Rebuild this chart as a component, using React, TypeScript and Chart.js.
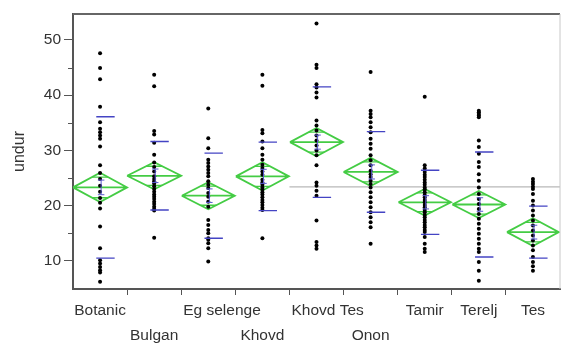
import React, { useEffect, useRef } from 'react';
import { Chart, registerables } from 'chart.js';

Chart.register(...registerables);

const categories = ['Botanic', 'Bulgan', 'Eg selenge', 'Khovd', 'Khovd Tes', 'Onon', 'Tamir', 'Terelj', 'Tes'];

const botanic = [47.6, 44.9, 42.9, 37.9, 35.1, 33.9, 33.3, 32.7, 32.1, 30.7, 27.3, 25.9, 24.8, 23.6, 22.5, 21.4, 20.5, 19.5, 16.2, 12.3, 10.1, 9.5, 8.9, 8.3, 7.9, 6.2];
const bulgan = [43.7, 41.6, 33.5, 32.9, 31.4, 29.2, 27.8, 27.0, 26.2, 25.3, 24.8, 24.4, 24.0, 23.5, 23.0, 22.5, 22.0, 21.6, 21.2, 20.7, 20.3, 19.8, 19.4, 19.1, 14.2];
const egSelenge = [37.6, 32.2, 30.4, 28.3, 27.7, 27.1, 26.5, 25.9, 25.3, 24.4, 23.8, 23.2, 22.3, 21.6, 20.7, 19.8, 17.4, 16.5, 15.6, 15.0, 14.1, 13.8, 13.2, 12.3, 9.9];
const khovd = [43.7, 41.7, 33.7, 33.1, 31.6, 30.4, 29.2, 28.3, 27.4, 26.8, 26.2, 25.6, 24.7, 24.2, 23.8, 23.3, 22.9, 22.4, 22.0, 21.5, 21.0, 20.6, 20.1, 19.6, 19.2, 14.1];
const khovdTes = [53.0, 45.5, 44.9, 42.0, 41.4, 40.5, 39.6, 35.4, 34.5, 33.6, 32.7, 31.8, 30.9, 30.0, 29.1, 27.3, 24.2, 23.6, 22.7, 21.8, 17.3, 13.4, 12.8, 12.2];
const onon = [44.2, 37.2, 36.6, 36.0, 35.1, 34.2, 33.3, 32.1, 31.2, 30.3, 29.1, 28.2, 27.3, 26.3, 25.7, 25.2, 24.5, 23.9, 23.3, 22.4, 21.5, 20.6, 19.7, 18.8, 17.9, 17.0, 16.1, 13.1];
const tamir = [39.7, 27.3, 26.7, 26.1, 25.6, 25.2, 24.7, 24.2, 23.8, 23.3, 22.9, 22.4, 21.9, 21.5, 21.0, 20.6, 20.1, 19.7, 19.2, 18.8, 18.3, 17.9, 17.4, 17.0, 16.5, 16.1, 15.6, 15.2, 14.3, 13.1, 12.2, 11.6];
const terelj = [37.2, 36.9, 36.6, 36.3, 36.0, 31.8, 30.6, 29.4, 27.9, 27.0, 25.7, 24.5, 23.3, 22.1, 21.2, 20.3, 19.4, 18.5, 17.6, 16.7, 15.8, 14.9, 14.0, 13.1, 12.2, 11.6, 9.8, 8.2, 6.4];
const tes = [24.8, 24.3, 23.9, 23.4, 23.0, 22.1, 20.9, 20.0, 19.1, 18.2, 17.3, 16.4, 15.5, 14.6, 13.7, 12.8, 11.9, 10.7, 9.8, 9.0, 8.2];

const groupValues = [botanic, bulgan, egSelenge, khovd, khovdTes, onon, tamir, terelj, tes];
const groupMeans = [23.3, 25.4, 21.8, 25.3, 31.5, 26.1, 20.6, 20.2, 15.2];
const ciHalf = [2.65, 2.45, 2.45, 2.55, 2.55, 2.55, 2.4, 2.45, 2.5];
const stdDevs = [12.8, 6.2, 7.7, 6.2, 10.0, 7.3, 5.8, 9.5, 4.7];
const diamondWidth = [1.0, 1.0, 0.98, 0.98, 0.98, 1.0, 0.97, 0.98, 0.96];
const grandMean = 23.4;
const grandMeanFrom = 3.5;
const yTickValues = [10, 15, 20, 25, 30, 35, 40, 45, 50];

const FONT = "'Liberation Sans', Arial, sans-serif";

export default function App() {
  const canvasRef = useRef<HTMLCanvasElement | null>(null);

  useEffect(() => {
    if (!canvasRef.current) return;

    const pointData: { x: number; y: number }[] = [];
    groupValues.forEach((vals, i) => vals.forEach((v) => pointData.push({ x: i, y: v })));

    const diamondData: any[] = [];
    const overlapData: any[] = [];
    const sdData: any[] = [];
    const seData: any[] = [];
    const r2 = Math.SQRT1_2;
    groupMeans.forEach((m, i) => {
      const hw = 0.5 * diamondWidth[i];
      const h = ciHalf[i];
      diamondData.push(
        { x: i - hw, y: m }, { x: i, y: m + h }, { x: i + hw, y: m }, { x: i, y: m - h }, { x: i - hw, y: m },
        { x: i, y: null },
        { x: i - hw, y: m }, { x: i + hw, y: m },
        { x: i, y: null }
      );
      const ow = hw * (1 - r2);
      overlapData.push(
        { x: i - ow, y: m + h * r2 }, { x: i + ow, y: m + h * r2 }, { x: i, y: null },
        { x: i - ow, y: m - h * r2 }, { x: i + ow, y: m - h * r2 }, { x: i, y: null }
      );
      const s = stdDevs[i];
      sdData.push(
        { x: i - 0.07, y: m + s }, { x: i + 0.27, y: m + s }, { x: i, y: null },
        { x: i - 0.07, y: m - s }, { x: i + 0.27, y: m - s }, { x: i, y: null }
      );
      const se = h / 2;
      seData.push(
        { x: i + 0.02, y: m - se }, { x: i + 0.02, y: m + se }, { x: i, y: null },
        { x: i - 0.04, y: m + se }, { x: i + 0.08, y: m + se }, { x: i, y: null },
        { x: i - 0.04, y: m - se }, { x: i + 0.08, y: m - se }, { x: i, y: null }
      );
    });

    const lineDs = (label: string, data: any[], color: string, width: number, order: number) => ({
      label,
      data,
      showLine: true,
      spanGaps: false,
      borderColor: color,
      borderWidth: width,
      pointRadius: 0,
      pointHoverRadius: 0,
      tension: 0,
      fill: false,
      order,
    });

    const framePlugin = {
      id: 'frame',
      afterDraw(chart: any) {
        const { ctx, chartArea } = chart;
        const ys = chart.scales.y;
        const xs = chart.scales.x;
        ctx.save();
        ctx.strokeStyle = '#666';
        ctx.lineWidth = 2;
        ctx.beginPath();
        ctx.moveTo(chartArea.left, chartArea.top);
        ctx.lineTo(chartArea.right, chartArea.top);
        ctx.stroke();
        ctx.strokeStyle = '#c8c8c8';
        ctx.lineWidth = 1;
        ctx.beginPath();
        ctx.moveTo(chartArea.right, chartArea.top);
        ctx.lineTo(chartArea.right, chartArea.bottom);
        ctx.stroke();
        ctx.strokeStyle = '#555';
        ctx.lineWidth = 1;
        yTickValues.forEach((v) => {
          if (v % 10 === 0) return;
          const py = Math.round(ys.getPixelForValue(v)) + 0.5;
          ctx.beginPath();
          ctx.moveTo(chartArea.left - 5, py);
          ctx.lineTo(chartArea.left, py);
          ctx.stroke();
        });
        ctx.font = `15.5px ${FONT}`;
        ctx.fillStyle = '#333';
        ctx.textBaseline = 'middle';
        ctx.textAlign = 'left';
        let topEnd = -Infinity;
        categories.forEach((c, i) => {
          const cx = xs.getPixelForValue(i);
          const gl = xs.getPixelForValue(i - 0.5);
          const gw = xs.getPixelForValue(i + 0.5) - gl;
          const w = ctx.measureText(c).width;
          const start = w > gw ? gl + 2 : cx - w / 2;
          let y;
          if (start >= topEnd + 6) {
            y = chartArea.bottom + 22;
            topEnd = start + w;
          } else {
            y = chartArea.bottom + 47;
          }
          ctx.fillText(c, start, y);
        });
        ctx.restore();
      },
    };

    const chart = new Chart(canvasRef.current, {
      type: 'scatter',
      data: {
        datasets: [
          lineDs('sd', sdData, '#4444c4', 1.4, 0),
          lineDs('se', seData, '#5a5ad0', 1, 0),
          {
            label: 'undur',
            data: pointData,
            backgroundColor: '#000',
            borderColor: '#000',
            pointRadius: 2,
            pointBorderWidth: 0,
            pointHoverRadius: 2,
            order: 1,
          } as any,
          lineDs('diamond', diamondData, '#44cc44', 1.8, 2),
          lineDs('overlap', overlapData, '#44cc44', 1.3, 2),
          lineDs('grand', [{ x: grandMeanFrom, y: grandMean }, { x: categories.length - 0.5, y: grandMean }], '#b8b8b8', 1.2, 3),
        ],
      },
      plugins: [framePlugin],
      options: {
        animation: false,
        responsive: false,
        layout: { padding: { top: 14, right: 2, left: 0, bottom: 0 } },
        plugins: { legend: { display: false }, tooltip: { enabled: false } },
        scales: {
          x: {
            type: 'linear',
            min: -0.5,
            max: categories.length - 0.5,
            afterBuildTicks: (scale: any) => {
              scale.ticks = categories.slice(1).map((_, i) => ({ value: i + 0.5 }));
            },
            afterFit: (scale: any) => {
              scale.height = 55;
            },
            ticks: { callback: () => '', font: { family: FONT, size: 15 } },
            grid: { drawOnChartArea: false, drawTicks: true, tickLength: 6, color: '#555', lineWidth: 1 },
            border: { display: true, color: '#555', width: 2 },
          },
          y: {
            min: 4.9,
            max: 54.7,
            afterBuildTicks: (scale: any) => {
              scale.ticks = yTickValues.map((v) => ({ value: v }));
            },
            afterFit: (scale: any) => {
              scale.width = 73;
            },
            ticks: {
              callback: (v: any) => (Number(v) % 10 === 0 ? String(v) : ''),
              font: { family: FONT, size: 15.5 },
              color: '#333',
              padding: 3,
            },
            grid: {
              drawOnChartArea: false,
              drawTicks: true,
              tickLength: 9,
              tickColor: (ctx: any) => (ctx.tick && ctx.tick.value % 10 === 0 ? '#555' : 'rgba(0,0,0,0)'),
              lineWidth: 1,
            },
            border: { display: true, color: '#555', width: 2 },
            title: {
              display: true,
              text: 'undur',
              font: { family: FONT, size: 16 },
              color: '#333',
              padding: { top: 10, bottom: 0 },
            },
          },
        },
      },
    });

    return () => chart.destroy();
  }, []);

  return (
    <div style={{ position: 'fixed', left: 0, top: 0, width: 562, height: 344, background: '#fff' }}>
      <canvas ref={canvasRef} width={562} height={344} style={{ display: 'block' }} />
    </div>
  );
}
